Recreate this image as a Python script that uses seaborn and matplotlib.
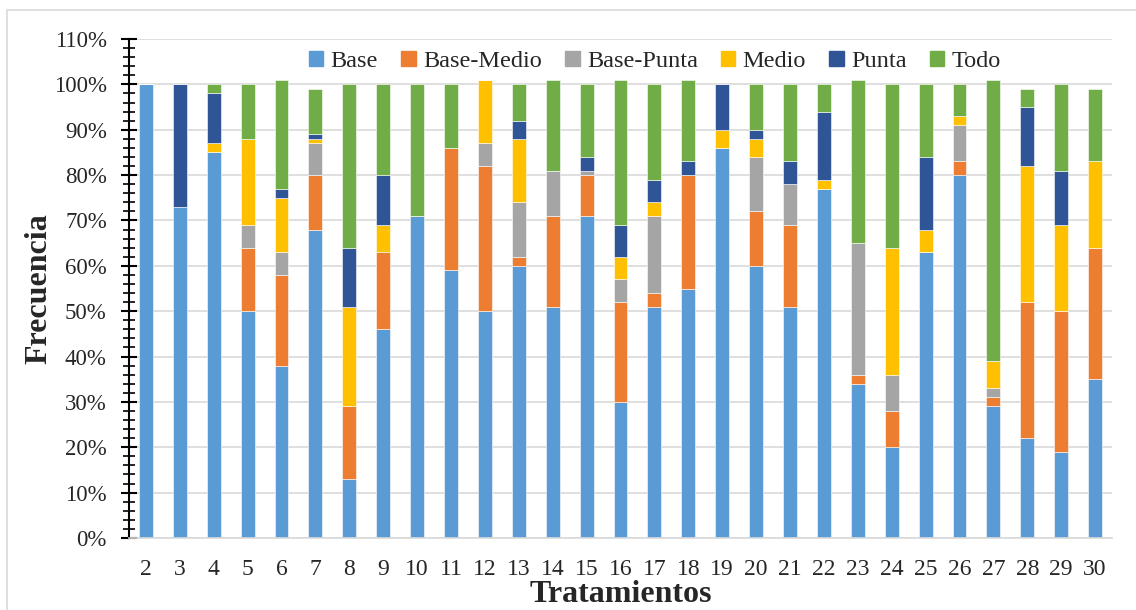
import numpy as np
import pandas as pd
import matplotlib
matplotlib.use("Agg")
import matplotlib.pyplot as plt
from matplotlib.ticker import MultipleLocator, FuncFormatter
from matplotlib.patches import Rectangle
import seaborn as sns

# Data (percent per treatment, stacked bottom -> top)
tratamientos = [str(t) for t in range(2, 31)]
base =        [100, 73, 85, 50, 38, 68, 13, 46, 71, 59, 50, 60, 51, 71, 30, 51, 55, 86, 60, 51, 77, 34, 20, 63, 80, 29, 22, 19, 35]
base_medio =  [0, 0, 0, 14, 20, 12, 16, 17, 0, 27, 32, 2, 20, 9, 22, 3, 25, 0, 12, 18, 0, 2, 8, 0, 3, 2, 30, 31, 29]
base_punta =  [0, 0, 0, 5, 5, 7, 0, 0, 0, 0, 5, 12, 10, 1, 5, 17, 0, 0, 12, 9, 0, 29, 8, 0, 8, 2, 0, 0, 0]
medio =       [0, 0, 2, 19, 12, 1, 22, 6, 0, 0, 14, 14, 0, 0, 5, 3, 0, 4, 4, 0, 2, 0, 28, 5, 2, 6, 30, 19, 19]
punta =       [0, 27, 11, 0, 2, 1, 13, 11, 0, 0, 0, 4, 0, 3, 7, 5, 3, 10, 2, 5, 15, 0, 0, 16, 0, 0, 13, 12, 0]
todo =        [0, 0, 2, 12, 24, 10, 36, 20, 29, 14, 0, 8, 20, 16, 32, 21, 18, 0, 10, 17, 6, 36, 36, 16, 7, 62, 4, 19, 16]

series = {
    "Base": base,
    "Base-Medio": base_medio,
    "Base-Punta": base_punta,
    "Medio": medio,
    "Punta": punta,
    "Todo": todo,
}
colores = ["#5B9BD5", "#ED7D31", "#A5A5A5", "#FFC000", "#2F5597", "#70AD47"]

sns.set_style("white")
plt.rcParams["font.family"] = ["Liberation Serif", "DejaVu Serif"]

fig = plt.figure(figsize=(11.36, 6.10), dpi=100)
ax = fig.add_axes([129 / 1136, 1 - 538 / 610, (1112 - 129) / 1136, (538 - 39) / 610])

# Stacked bars
bottom = np.zeros(len(tratamientos))
for (nombre, vals), c in zip(series.items(), colores):
    sns.barplot(x=tratamientos, y=vals, bottom=bottom, color=c, saturation=1,
                width=0.41, errorbar=None, label=nombre, edgecolor="white",
                linewidth=0.4, ax=ax, legend=False)
    bottom = bottom + np.array(vals)

ax.set_xlim(-0.5, 28.5)
ax.set_ylim(0, 110)
ax.yaxis.set_major_locator(MultipleLocator(10))
ax.yaxis.set_minor_locator(MultipleLocator(2))
ax.yaxis.set_major_formatter(FuncFormatter(lambda v, p: f"{v:.0f}%"))
ax.grid(axis="y", which="major", color="#D9D9D9", linewidth=1.2)
ax.grid(axis="y", which="minor", visible=False)
ax.set_axisbelow(True)

for s in ["top", "right"]:
    ax.spines[s].set_visible(False)
ax.spines["left"].set_color("black")
ax.spines["left"].set_linewidth(1.5)
ax.spines["bottom"].set_color("#D9D9D9")
ax.spines["bottom"].set_linewidth(1.2)

ax.tick_params(axis="y", which="both", left=True)
ax.tick_params(axis="y", which="major", direction="inout", length=12, width=1.5,
               labelsize=16.5, pad=10, color="black")
ax.tick_params(axis="y", which="minor", direction="inout", length=9, width=1.2, color="black")
ax.tick_params(axis="x", length=0, labelsize=17, pad=15)

ax.set_xlabel("Tratamientos", fontsize=23, fontweight="bold", labelpad=0)
ax.set_ylabel("Frecuencia", fontsize=23, fontweight="bold", labelpad=0)

# Legend
handles = [Rectangle((0, 0), 1, 1, color=c) for c in colores]
ax.legend(handles, list(series.keys()), loc="upper center", bbox_to_anchor=(0.535, 1.01),
          ncol=6, frameon=False, fontsize=17.5, handlelength=0.6, handleheight=0.6,
          handletextpad=0.3, columnspacing=0.95, borderaxespad=0.3)

# Chart area border
fig.patches.append(Rectangle((7 / 1136, -0.1), 1.2, 1 - 10 / 610 + 0.1,
                             transform=fig.transFigure, fill=False,
                             edgecolor="#D9D9D9", linewidth=1.2))

fig.savefig("out.png", dpi=100)
